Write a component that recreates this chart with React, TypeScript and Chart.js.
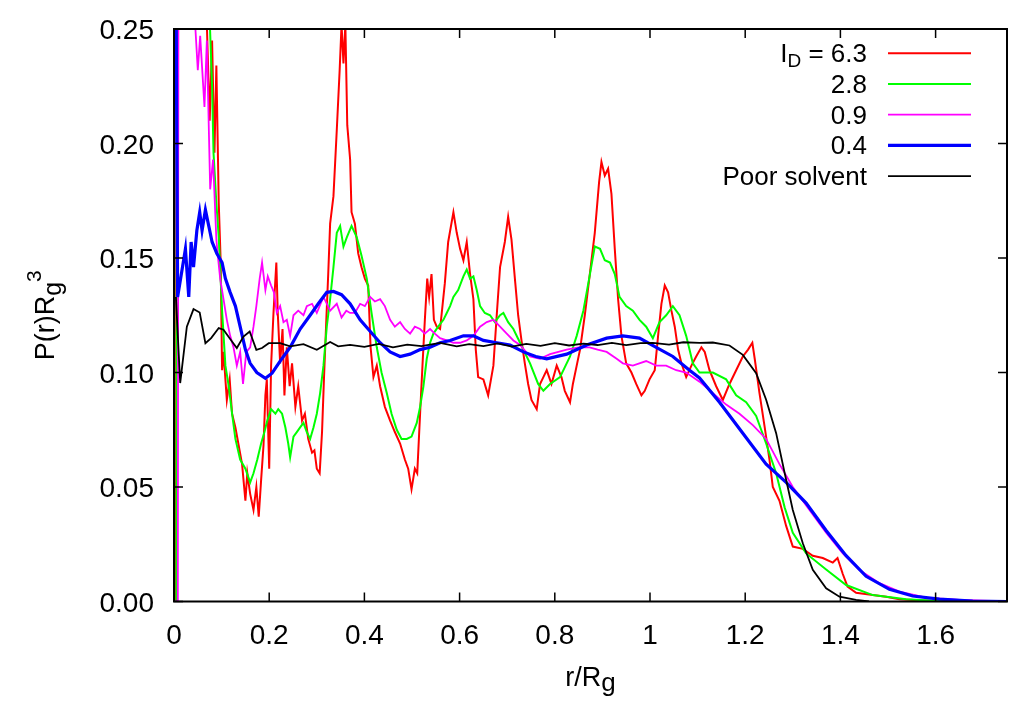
import { useEffect, useRef } from 'react';
import Chart from 'chart.js/auto';

// [r/Rg, P(r)Rg^3]
const ld63 = [
  [0, 0], [0.004, 0], [0.006, 0.4], [0.04, 0.38], [0.062, 0.3], [0.069, 0.252], [0.075, 0.21],
  [0.08, 0.245], [0.085, 0.196], [0.089, 0.234], [0.094, 0.174], [0.098, 0.149], [0.101, 0.101],
  [0.104, 0.109], [0.111, 0.088], [0.117, 0.097], [0.122, 0.082], [0.129, 0.076], [0.136, 0.068],
  [0.143, 0.06], [0.15, 0.044], [0.154, 0.056], [0.16, 0.047], [0.167, 0.04], [0.173, 0.05],
  [0.178, 0.037], [0.183, 0.053], [0.188, 0.068], [0.192, 0.09], [0.195, 0.097], [0.2, 0.058],
  [0.204, 0.103], [0.209, 0.126], [0.215, 0.148], [0.218, 0.126], [0.223, 0.104], [0.228, 0.119],
  [0.232, 0.09], [0.237, 0.111], [0.243, 0.094], [0.248, 0.104], [0.255, 0.085], [0.261, 0.094],
  [0.269, 0.079], [0.275, 0.082], [0.282, 0.071], [0.29, 0.065], [0.295, 0.066], [0.3, 0.058],
  [0.306, 0.056], [0.311, 0.074], [0.315, 0.097], [0.32, 0.123], [0.324, 0.143], [0.328, 0.165],
  [0.335, 0.177], [0.342, 0.206], [0.348, 0.232], [0.352, 0.252], [0.356, 0.235], [0.36, 0.252],
  [0.364, 0.208], [0.37, 0.193], [0.373, 0.17], [0.38, 0.165], [0.387, 0.152], [0.394, 0.146],
  [0.401, 0.141], [0.408, 0.138], [0.413, 0.111], [0.419, 0.098], [0.426, 0.103], [0.433, 0.094],
  [0.443, 0.085], [0.454, 0.079], [0.464, 0.074], [0.475, 0.069], [0.485, 0.062], [0.492, 0.058],
  [0.499, 0.049], [0.506, 0.058], [0.511, 0.056], [0.517, 0.082], [0.522, 0.103], [0.527, 0.123],
  [0.532, 0.141], [0.536, 0.133], [0.541, 0.143], [0.546, 0.123], [0.552, 0.12], [0.559, 0.119],
  [0.569, 0.139], [0.576, 0.157], [0.587, 0.17], [0.594, 0.161], [0.601, 0.154], [0.608, 0.149],
  [0.615, 0.157], [0.622, 0.143], [0.629, 0.132], [0.634, 0.11], [0.639, 0.098], [0.65, 0.097],
  [0.66, 0.09], [0.671, 0.103], [0.678, 0.125], [0.685, 0.146], [0.695, 0.157], [0.702, 0.168],
  [0.709, 0.158], [0.717, 0.139], [0.723, 0.125], [0.73, 0.114], [0.737, 0.104], [0.744, 0.095],
  [0.751, 0.088], [0.762, 0.084], [0.769, 0.095], [0.776, 0.098], [0.783, 0.101], [0.793, 0.095],
  [0.804, 0.103], [0.814, 0.098], [0.821, 0.092], [0.832, 0.087], [0.838, 0.095], [0.846, 0.103],
  [0.853, 0.11], [0.863, 0.125], [0.873, 0.142], [0.884, 0.161], [0.893, 0.183], [0.898, 0.192],
  [0.905, 0.186], [0.912, 0.189], [0.919, 0.178], [0.926, 0.154], [0.933, 0.132], [0.94, 0.116],
  [0.95, 0.104], [0.961, 0.1], [0.971, 0.095], [0.982, 0.09], [0.989, 0.092], [0.999, 0.097],
  [1.01, 0.101], [1.017, 0.116], [1.024, 0.13], [1.031, 0.138], [1.038, 0.135], [1.045, 0.127],
  [1.052, 0.12], [1.059, 0.11], [1.066, 0.104], [1.076, 0.098], [1.087, 0.103], [1.097, 0.107],
  [1.108, 0.111], [1.115, 0.109], [1.125, 0.101], [1.139, 0.094], [1.153, 0.088], [1.167, 0.095],
  [1.181, 0.101], [1.195, 0.107], [1.206, 0.11], [1.215, 0.113], [1.22, 0.106], [1.23, 0.091],
  [1.241, 0.076], [1.251, 0.062], [1.258, 0.05], [1.272, 0.044], [1.286, 0.033], [1.3, 0.024],
  [1.321, 0.023], [1.342, 0.02], [1.363, 0.019], [1.384, 0.017], [1.394, 0.019], [1.405, 0.012],
  [1.415, 0.0065], [1.433, 0.0038], [1.468, 0.0028], [1.496, 0.0021], [1.524, 0.001],
  [1.594, 0.0002], [1.75, 0],
];

const ld28 = [
  [0, 0], [0.005, 0], [0.007, 0.4], [0.05, 0.36], [0.075, 0.254], [0.08, 0.225], [0.083, 0.196],
  [0.089, 0.174], [0.094, 0.159], [0.101, 0.127], [0.108, 0.103], [0.115, 0.094], [0.122, 0.082],
  [0.129, 0.071], [0.139, 0.062], [0.15, 0.058], [0.16, 0.052], [0.167, 0.056], [0.175, 0.062],
  [0.183, 0.069], [0.19, 0.074], [0.196, 0.079], [0.204, 0.084], [0.213, 0.082], [0.219, 0.084],
  [0.227, 0.082], [0.234, 0.076], [0.24, 0.069], [0.244, 0.063], [0.251, 0.072], [0.258, 0.074],
  [0.265, 0.076], [0.272, 0.078], [0.279, 0.074], [0.286, 0.071], [0.293, 0.076], [0.3, 0.082],
  [0.307, 0.091], [0.314, 0.103], [0.321, 0.12], [0.328, 0.132], [0.335, 0.146], [0.342, 0.161],
  [0.349, 0.164], [0.356, 0.155], [0.363, 0.159], [0.373, 0.164], [0.384, 0.159], [0.394, 0.151],
  [0.405, 0.141], [0.415, 0.126], [0.426, 0.111], [0.436, 0.1], [0.447, 0.091], [0.457, 0.082],
  [0.468, 0.075], [0.478, 0.071], [0.489, 0.071], [0.499, 0.072], [0.51, 0.078], [0.517, 0.085],
  [0.524, 0.094], [0.531, 0.106], [0.538, 0.113], [0.545, 0.117], [0.555, 0.12], [0.566, 0.123],
  [0.573, 0.126], [0.58, 0.129], [0.587, 0.133], [0.597, 0.136], [0.608, 0.142], [0.615, 0.145],
  [0.622, 0.141], [0.629, 0.142], [0.636, 0.136], [0.643, 0.129], [0.653, 0.126], [0.664, 0.125],
  [0.674, 0.122], [0.685, 0.125], [0.692, 0.126], [0.702, 0.122], [0.713, 0.119], [0.727, 0.113],
  [0.748, 0.104], [0.765, 0.095], [0.776, 0.092], [0.79, 0.095], [0.811, 0.098], [0.832, 0.107],
  [0.846, 0.116], [0.86, 0.127], [0.873, 0.142], [0.884, 0.155], [0.895, 0.154], [0.905, 0.149],
  [0.916, 0.148], [0.926, 0.143], [0.936, 0.133], [0.95, 0.129], [0.964, 0.127], [0.978, 0.123],
  [0.992, 0.12], [1.006, 0.115], [1.02, 0.122], [1.034, 0.125], [1.048, 0.129], [1.062, 0.125],
  [1.076, 0.116], [1.09, 0.104], [1.104, 0.1], [1.132, 0.1], [1.16, 0.097], [1.181, 0.09],
  [1.202, 0.087], [1.223, 0.081], [1.244, 0.069], [1.265, 0.056], [1.283, 0.041], [1.3, 0.03],
  [1.328, 0.021], [1.37, 0.014], [1.412, 0.0072], [1.468, 0.0028], [1.538, 0.001],
  [1.608, 0.0002], [1.75, 0],
];

const ld09 = [
  [0, 0], [0.008, 0], [0.01, 0.4], [0.03, 0.33], [0.045, 0.25], [0.05, 0.232], [0.055, 0.247],
  [0.064, 0.216], [0.069, 0.245], [0.076, 0.18], [0.082, 0.193], [0.089, 0.158], [0.093, 0.149],
  [0.097, 0.141], [0.104, 0.132], [0.111, 0.123], [0.118, 0.116], [0.125, 0.111], [0.132, 0.103],
  [0.139, 0.109], [0.145, 0.095], [0.152, 0.109], [0.16, 0.111], [0.167, 0.12], [0.173, 0.129],
  [0.18, 0.141], [0.185, 0.148], [0.192, 0.136], [0.197, 0.142], [0.204, 0.138], [0.21, 0.135],
  [0.216, 0.126], [0.223, 0.129], [0.23, 0.122], [0.237, 0.123], [0.244, 0.116], [0.251, 0.125],
  [0.261, 0.127], [0.272, 0.125], [0.279, 0.129], [0.29, 0.13], [0.3, 0.126], [0.314, 0.133],
  [0.328, 0.127], [0.342, 0.13], [0.352, 0.124], [0.362, 0.127], [0.37, 0.126], [0.38, 0.126],
  [0.391, 0.13], [0.401, 0.129], [0.412, 0.133], [0.422, 0.131], [0.433, 0.132], [0.443, 0.129],
  [0.454, 0.123], [0.464, 0.12], [0.475, 0.122], [0.485, 0.119], [0.496, 0.117], [0.506, 0.12],
  [0.517, 0.119], [0.527, 0.117], [0.538, 0.119], [0.548, 0.117], [0.559, 0.115], [0.573, 0.114],
  [0.587, 0.113], [0.601, 0.113], [0.615, 0.114], [0.629, 0.116], [0.643, 0.12], [0.657, 0.122],
  [0.671, 0.123], [0.685, 0.12], [0.699, 0.117], [0.713, 0.114], [0.727, 0.112], [0.748, 0.107],
  [0.769, 0.106], [0.79, 0.108], [0.825, 0.11], [0.85, 0.111], [0.873, 0.111], [0.89, 0.11],
  [0.909, 0.109], [0.93, 0.106], [0.943, 0.104], [0.964, 0.103], [0.992, 0.105], [1.013, 0.103],
  [1.034, 0.103], [1.055, 0.101], [1.076, 0.1], [1.104, 0.096], [1.132, 0.091], [1.16, 0.086],
  [1.188, 0.082], [1.216, 0.077], [1.244, 0.071], [1.272, 0.06], [1.3, 0.05], [1.335, 0.04],
  [1.37, 0.03], [1.405, 0.021], [1.44, 0.0138], [1.482, 0.008], [1.524, 0.0043], [1.58, 0.0017],
  [1.65, 0.0007], [1.75, 0],
];

const ld04 = [
  [0.003, 0.32], [0.0076, 0.133], [0.017, 0.145], [0.024, 0.154], [0.031, 0.133], [0.036, 0.157],
  [0.041, 0.146], [0.048, 0.162], [0.054, 0.17], [0.059, 0.162], [0.066, 0.171], [0.075, 0.162],
  [0.08, 0.157], [0.09, 0.152], [0.101, 0.148], [0.108, 0.141], [0.118, 0.135], [0.129, 0.129],
  [0.139, 0.12], [0.15, 0.11], [0.16, 0.104], [0.174, 0.1], [0.192, 0.0975], [0.206, 0.0997],
  [0.223, 0.105], [0.244, 0.111], [0.265, 0.119], [0.286, 0.125], [0.303, 0.13], [0.321, 0.135],
  [0.335, 0.1354], [0.352, 0.134], [0.37, 0.13], [0.391, 0.123], [0.412, 0.118], [0.433, 0.113],
  [0.454, 0.109], [0.475, 0.107], [0.496, 0.108], [0.517, 0.11], [0.538, 0.111], [0.559, 0.113],
  [0.58, 0.114], [0.608, 0.116], [0.629, 0.116], [0.65, 0.114], [0.678, 0.113], [0.706, 0.112],
  [0.734, 0.109], [0.76, 0.107], [0.783, 0.106], [0.825, 0.108], [0.867, 0.112], [0.909, 0.115],
  [0.943, 0.116], [0.978, 0.115], [1.013, 0.111], [1.048, 0.107], [1.083, 0.101], [1.104, 0.0976],
  [1.146, 0.087], [1.195, 0.0735], [1.244, 0.06], [1.286, 0.052], [1.328, 0.043], [1.37, 0.031],
  [1.412, 0.02], [1.454, 0.011], [1.503, 0.0053], [1.552, 0.0024], [1.608, 0.001],
  [1.678, 0.0002], [1.75, 0],
];

const poorSolvent = [
  [0.004, 0.133], [0.013, 0.0954], [0.027, 0.12], [0.041, 0.1277], [0.054, 0.1262], [0.066, 0.1128],
  [0.078, 0.115], [0.094, 0.1194], [0.104, 0.1187], [0.118, 0.1146], [0.132, 0.1107], [0.146, 0.1157],
  [0.159, 0.1179], [0.173, 0.1099], [0.185, 0.1107], [0.199, 0.1128], [0.223, 0.1128], [0.244, 0.1114],
  [0.272, 0.1124], [0.3, 0.1099], [0.328, 0.1133], [0.345, 0.1114], [0.37, 0.1121], [0.4, 0.1112],
  [0.43, 0.1125], [0.46, 0.111], [0.49, 0.1122], [0.52, 0.1115], [0.559, 0.1129], [0.594, 0.1114],
  [0.62, 0.1124], [0.65, 0.1115], [0.68, 0.1127], [0.71, 0.1113], [0.74, 0.1125], [0.77, 0.1116],
  [0.8, 0.1128], [0.83, 0.1118], [0.86, 0.1126], [0.89, 0.112], [0.92, 0.1129], [0.95, 0.112],
  [0.98, 0.1128], [1.006, 0.1129], [1.04, 0.1122], [1.07, 0.1132], [1.104, 0.1129], [1.132, 0.1131],
  [1.167, 0.1118], [1.195, 0.1077], [1.223, 0.0997], [1.244, 0.0881], [1.265, 0.0735], [1.283, 0.056],
  [1.3, 0.04], [1.321, 0.0254], [1.342, 0.0138], [1.37, 0.0058], [1.398, 0.0021], [1.433, 0.0007],
  [1.46, 0],
];

const seriesData = [ld63, ld28, ld09, ld04, poorSolvent];
const seriesLabels = ['6.3', '2.8', '0.9', '0.4', 'Poor solvent'];
const seriesColors = ['#ff0000', '#00ff00', '#ff00ff', '#0000ff', '#000000'];
const seriesWidths = [2, 2, 1.8, 3.2, 1.8];

const xTicks = [0, 0.2, 0.4, 0.6, 0.8, 1, 1.2, 1.4, 1.6];
const yTicks = [0, 0.05, 0.1, 0.15, 0.2, 0.25];

const FONT = "'Liberation Sans', Arial, Helvetica, sans-serif";

type Part = [string, number, number]; // text, font size, baseline shift

function richWidth(ctx: CanvasRenderingContext2D, parts: Part[]) {
  let w = 0;
  for (const [t, s] of parts) {
    ctx.font = `${s}px ${FONT}`;
    w += ctx.measureText(t).width;
  }
  return w;
}

function drawRich(ctx: CanvasRenderingContext2D, parts: Part[], x: number, y: number) {
  let cx = x;
  ctx.textAlign = 'left';
  ctx.textBaseline = 'alphabetic';
  for (const [t, s, dy] of parts) {
    ctx.font = `${s}px ${FONT}`;
    ctx.fillText(t, cx, y + dy);
    cx += ctx.measureText(t).width;
  }
}

const gnuFrame = {
  id: 'gnuFrame',
  afterDatasetsDraw(chart: any) {
    const { ctx, chartArea: a, scales } = chart;
    const xs = scales.x;
    const ys = scales.y;
    ctx.save();
    ctx.strokeStyle = '#000';
    ctx.fillStyle = '#000';

    ctx.lineWidth = 1.5;
    ctx.beginPath();
    for (const v of xTicks) {
      const px = xs.getPixelForValue(v);
      ctx.moveTo(px, a.bottom);
      ctx.lineTo(px, a.bottom - 9);
      ctx.moveTo(px, a.top);
      ctx.lineTo(px, a.top + 9);
    }
    for (const v of yTicks) {
      const py = ys.getPixelForValue(v);
      ctx.moveTo(a.left, py);
      ctx.lineTo(a.left + 9, py);
      ctx.moveTo(a.right, py);
      ctx.lineTo(a.right - 9, py);
    }
    ctx.stroke();
    ctx.lineWidth = 2;
    ctx.strokeRect(a.left, a.top, a.right - a.left, a.bottom - a.top);

    ctx.font = `28px ${FONT}`;
    ctx.textBaseline = 'alphabetic';
    ctx.textAlign = 'center';
    for (const v of xTicks) {
      ctx.fillText(String(v), xs.getPixelForValue(v), a.bottom + 42);
    }
    ctx.textAlign = 'right';
    for (const v of yTicks) {
      ctx.fillText(v.toFixed(2), a.left - 20, ys.getPixelForValue(v) + 10);
    }

    // axis titles
    const xTitle: Part[] = [['r/R', 27, 0], ['g', 26, 5]];
    const cx = (a.left + a.right) / 2;
    drawRich(ctx, xTitle, cx - richWidth(ctx, xTitle) / 2, 686);

    const yTitle: Part[] = [['P(r)R', 27, 0], ['g', 25, 7], ['3', 21, -13]];
    ctx.save();
    ctx.translate(54, (a.top + a.bottom) / 2);
    ctx.rotate(-Math.PI / 2);
    drawRich(ctx, yTitle, -richWidth(ctx, yTitle) / 2, 0);
    ctx.restore();

    // key, top right inside the frame
    const textRight = 867;
    seriesLabels.forEach((label, i) => {
      const cy = 53.3 + i * 30.7;
      const parts: Part[] = i === 0
        ? [['I', 26, 0], ['D', 19, 5], [' = ' + label, 26, 0]]
        : [[label, 26, 0]];
      drawRich(ctx, parts, textRight - richWidth(ctx, parts), cy + 9);
      ctx.strokeStyle = seriesColors[i];
      ctx.lineWidth = seriesWidths[i];
      ctx.beginPath();
      ctx.moveTo(888, cy);
      ctx.lineTo(971, cy);
      ctx.stroke();
    });
    ctx.restore();
  },
};

export default function App() {
  const ref = useRef<HTMLCanvasElement | null>(null);

  useEffect(() => {
    document.body.style.margin = '0';
    if (!ref.current) return;
    const chart = new Chart(ref.current, {
      type: 'line',
      data: {
        datasets: seriesData.map((pts, i) => ({
          label: seriesLabels[i],
          data: pts.map(([x, y]) => ({ x, y })),
          borderColor: seriesColors[i],
          borderWidth: seriesWidths[i],
          pointRadius: 0,
          tension: 0,
          fill: false,
          order: seriesData.length - i,
        })),
      },
      options: {
        responsive: false,
        animation: false,
        events: [],
        layout: { padding: { top: 29, right: 17, left: 0, bottom: 0 } },
        plugins: { legend: { display: false }, tooltip: { enabled: false } },
        scales: {
          x: {
            type: 'linear',
            min: 0,
            max: 1.75,
            grid: { display: false },
            border: { display: false },
            ticks: { display: false },
            afterFit: (s: any) => { s.height = 118.5; },
          },
          y: {
            min: 0,
            max: 0.25,
            grid: { display: false },
            border: { display: false },
            ticks: { display: false },
            afterFit: (s: any) => { s.width = 174; },
          },
        },
      },
      plugins: [gnuFrame],
    });
    return () => chart.destroy();
  }, []);

  return <canvas ref={ref} width={1024} height={720} style={{ display: 'block' }} />;
}
